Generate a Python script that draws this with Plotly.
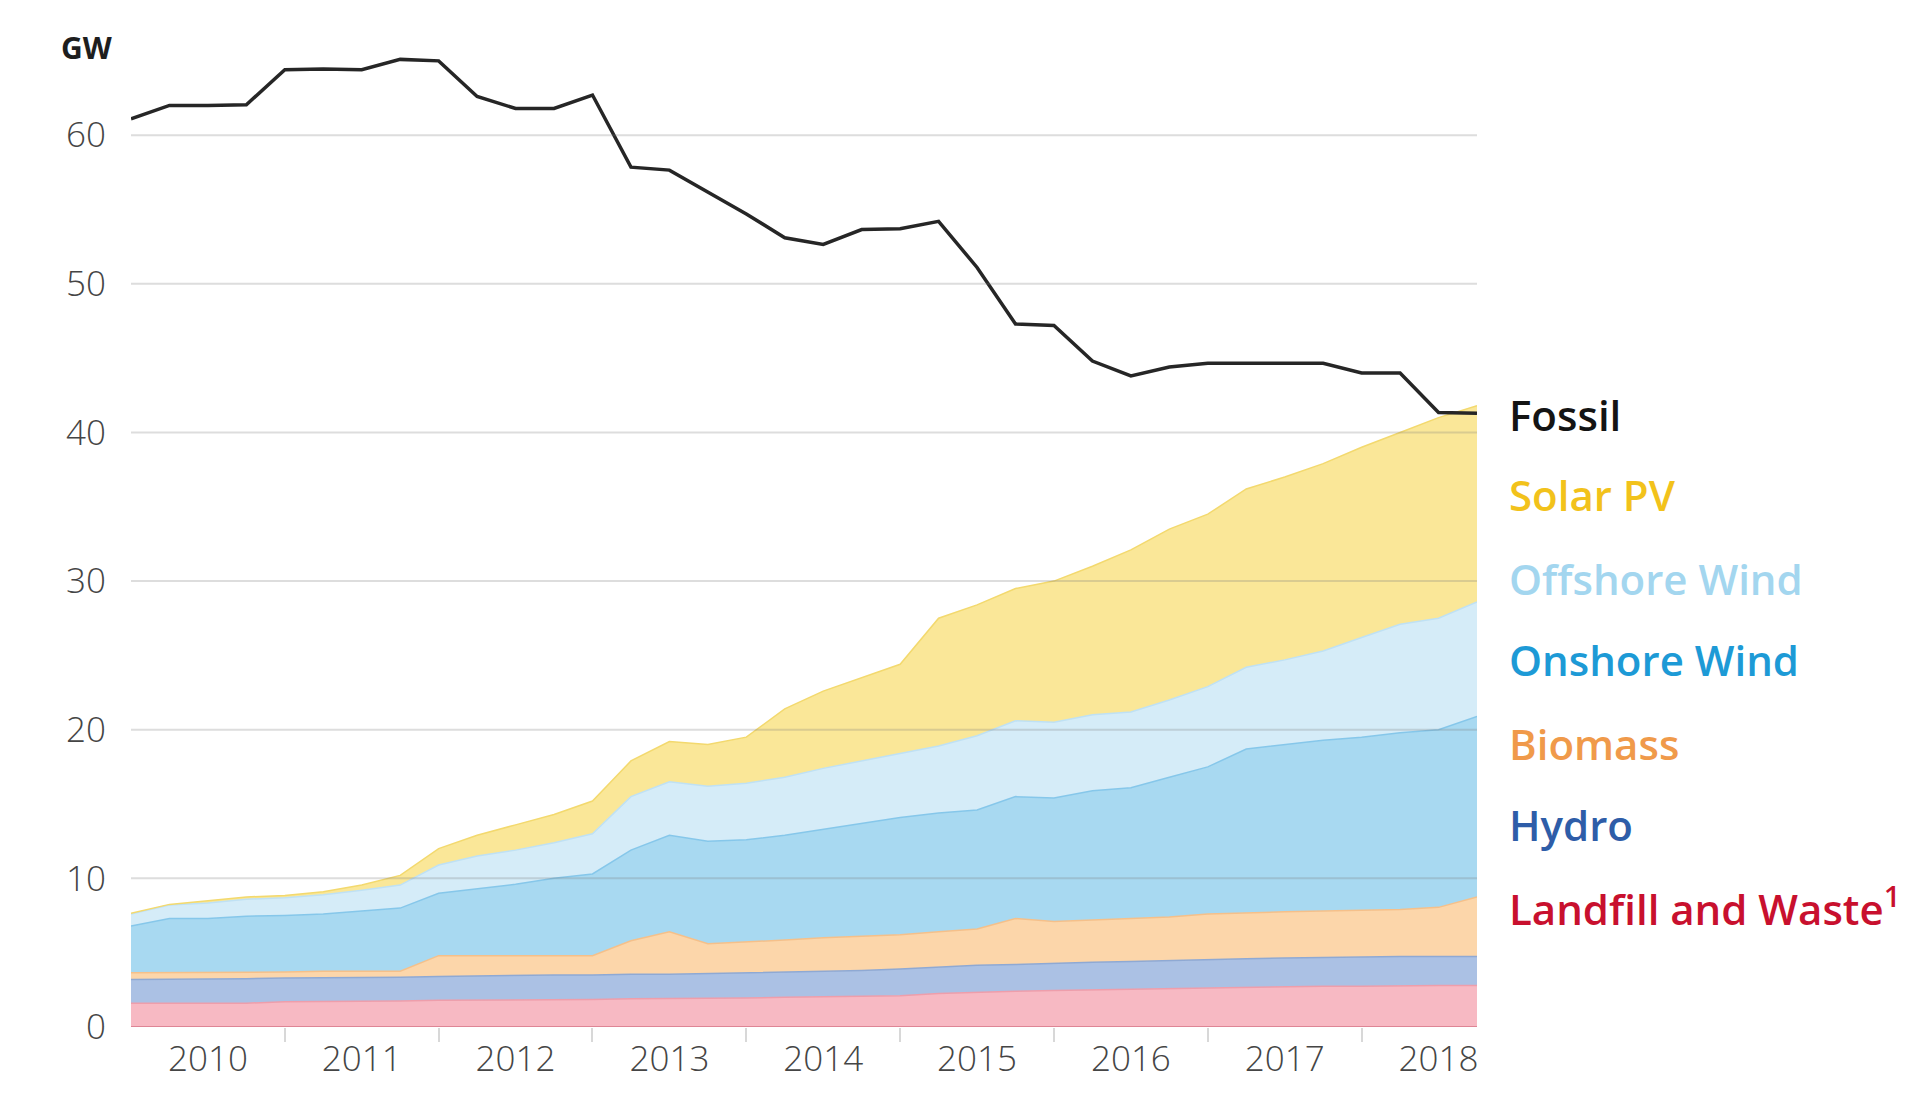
import plotly.graph_objects as go

# quarterly positions, 2010 Q1 .. 2018 Q4
quarters = [y + q / 4 for y in range(2010, 2019) for q in range(4)]
years = list(range(2010, 2019))

# GW per technology (stacked)
landfill = [1.6, 1.6, 1.6, 1.6, 1.7, 1.7, 1.75, 1.75, 1.8, 1.8, 1.8, 1.85,
            1.85, 1.9, 1.9, 1.9, 1.95, 2.0, 2.05, 2.05, 2.1, 2.25, 2.35, 2.4,
            2.45, 2.5, 2.55, 2.6, 2.65, 2.7, 2.7, 2.75, 2.75, 2.8, 2.8, 2.8]
hydro = [1.6, 1.6, 1.6, 1.65, 1.6, 1.6, 1.6, 1.6, 1.6, 1.65, 1.65, 1.65,
         1.65, 1.65, 1.65, 1.7, 1.7, 1.7, 1.7, 1.75, 1.8, 1.8, 1.8, 1.8,
         1.85, 1.85, 1.85, 1.85, 1.85, 1.9, 1.95, 1.95, 1.95, 1.95, 1.95, 1.95]
biomass = [0.45, 0.45, 0.45, 0.45, 0.4, 0.45, 0.4, 0.4, 1.4, 1.35, 1.35, 1.3,
           1.3, 2.25, 2.85, 2.0, 2.05, 2.15, 2.25, 2.3, 2.3, 2.35, 2.45, 3.1,
           2.8, 2.85, 2.9, 2.95, 3.1, 3.1, 3.1, 3.1, 3.15, 3.15, 3.3, 4.0]
onshore = [3.15, 3.65, 3.65, 3.75, 3.8, 3.85, 4.05, 4.25, 4.2, 4.5, 4.8, 5.2,
           5.5, 6.1, 6.5, 6.9, 6.9, 7.05, 7.3, 7.6, 7.9, 8.0, 8.0, 8.2,
           8.3, 8.7, 8.8, 9.4, 9.9, 11.0, 11.25, 11.5, 11.65, 11.9, 11.95, 12.15]
offshore = [0.8, 0.9, 1.05, 1.15, 1.2, 1.3, 1.4, 1.55, 1.9, 2.2, 2.3, 2.4,
            2.7, 3.6, 3.6, 3.7, 3.8, 3.9, 4.1, 4.2, 4.3, 4.5, 5.0, 5.1,
            5.1, 5.1, 5.1, 5.2, 5.4, 5.5, 5.7, 6.0, 6.7, 7.3, 7.5, 7.7]
solar = [0.05, 0.05, 0.15, 0.15, 0.15, 0.2, 0.35, 0.65, 1.1, 1.4, 1.7, 1.9,
         2.2, 2.4, 2.7, 2.8, 3.1, 4.6, 5.2, 5.6, 6.0, 8.6, 8.8, 8.9,
         9.5, 10.0, 10.9, 11.5, 11.6, 12.0, 12.3, 12.6, 12.8, 12.9, 13.5, 13.2]
fossil = [61.1, 62.0, 62.0, 62.05, 64.4, 64.45, 64.4, 65.1, 65.0, 62.6, 61.8, 61.8,
          62.7, 57.85, 57.65, 56.2, 54.7, 53.1, 52.65, 53.65, 53.7, 54.2, 51.1, 47.3,
          47.2, 44.8, 43.8, 44.4, 44.65, 44.65, 44.65, 44.65, 44.0, 44.0, 41.35, 41.3]

# name, values, fill, edge line, label colour, label height (GW)
layers = [
    ("Landfill and Waste<sup>1</sup>", landfill, "#f7b9c3", "#ee9eab", "#c8102e", 8.1),
    ("Hydro", hydro, "#abc1e4", "#8fa9d3", "#2e5da8", 13.65),
    ("Biomass", biomass, "#fcd6aa", "#f5c08a", "#f09a4a", 19.1),
    ("Onshore Wind", onshore, "#a8d9f1", "#86c7ea", "#1d9ad6", 24.7),
    ("Offshore Wind", offshore, "#d5ecf8", "#bfe1f4", "#a3d6ef", 30.2),
    ("Solar PV", solar, "#fae798", "#f3d96e", "#f2c21b", 35.8),
]

fig = go.Figure()

for name, vals, fill, edge, _, _ in layers:
    fig.add_trace(go.Scatter(
        x=quarters, y=vals, name=name, mode="lines",
        stackgroup="renew", fillcolor=fill,
        line=dict(color=edge, width=1.5),
    ))

fig.add_trace(go.Scatter(
    x=quarters, y=fossil, name="Fossil", mode="lines",
    line=dict(color="#262626", width=3.5),
))

# gridlines sit on top of the areas in the original
for g in [10, 20, 30, 40, 50, 60]:
    fig.add_shape(type="line", xref="paper", yref="y", x0=0, x1=1, y0=g, y1=g,
                  line=dict(color="rgba(120,120,120,0.25)", width=2), layer="above")
fig.add_shape(type="line", xref="paper", yref="y", x0=0, x1=1, y0=0, y1=0,
              line=dict(color="#de8595", width=2), layer="above")

label_font = dict(family="Open Sans", size=42, weight=600)
fig.add_annotation(x=1.022, xref="paper", y=41.2, yref="y", text="Fossil",
                   showarrow=False, xanchor="left", yanchor="middle",
                   font=dict(color="#141414", **label_font))
for name, _, _, _, colour, ypos in layers:
    fig.add_annotation(x=1.022, xref="paper", y=ypos, yref="y", text=name,
                       showarrow=False, xanchor="left", yanchor="middle",
                       font=dict(color=colour, **label_font))

fig.add_annotation(x=-0.0334, xref="paper", y=0.998, yref="paper", text="<b>GW</b>",
                   showarrow=False, xanchor="center", yanchor="middle",
                   font=dict(family="Open Sans", size=30, color="#1e1e1e"))

tick_font = dict(family="Open Sans", size=35, color="#454545", weight=300)

fig.update_layout(
    width=1920, height=1105,
    paper_bgcolor="white", plot_bgcolor="white",
    margin=dict(l=123, r=451, t=38, b=86),
    showlegend=False,
    xaxis=dict(
        range=[2010, 2018.75],
        tickmode="array",
        tickvals=[y + 0.5 for y in years],
        ticktext=[str(y) for y in years],
        ticks="", showgrid=False, zeroline=False, showline=False,
        tickfont=tick_font, ticklabelstandoff=8,
        minor=dict(tickmode="array", tickvals=years[1:], ticks="outside",
                   ticklen=14, tickwidth=1.5, tickcolor="#d8d8d8", showgrid=False),
    ),
    yaxis=dict(
        range=[0, 66],
        tickmode="array",
        tickvals=[0, 10, 20, 30, 40, 50, 60],
        ticks="", showgrid=False, zeroline=False, showline=False,
        tickfont=tick_font, ticklabelstandoff=24,
    ),
)

fig.write_html("out.html")
